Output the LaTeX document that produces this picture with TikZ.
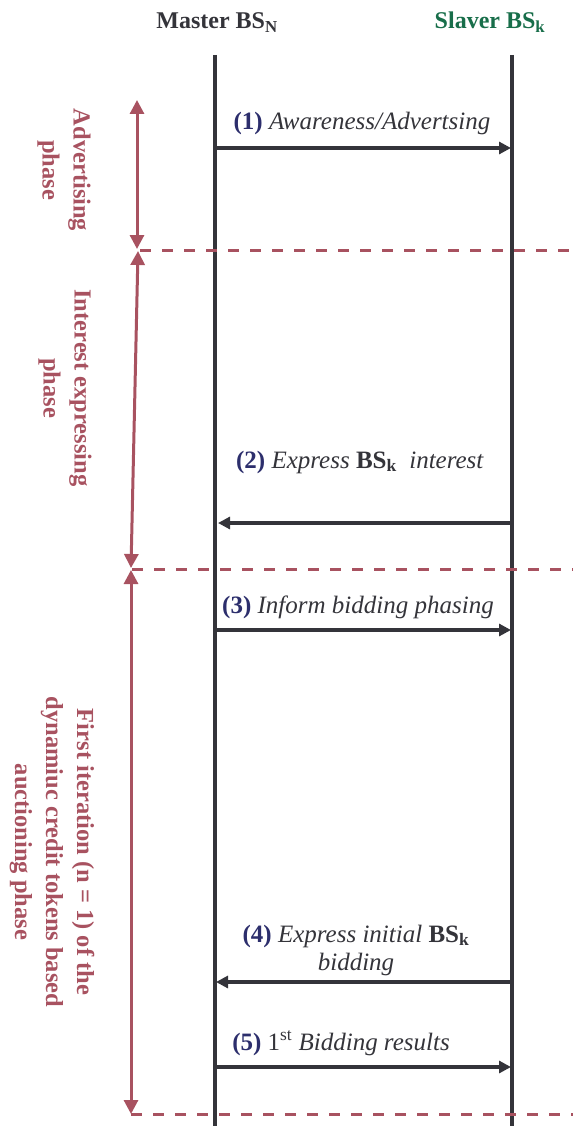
\documentclass[tikz,border=0pt]{standalone}
\usepackage{fontspec}
\setmainfont{Liberation Serif}
\usetikzlibrary{arrows.meta}
\definecolor{lifegray}{RGB}{52,52,58}
\definecolor{phasered}{RGB}{168,82,96}
\definecolor{stepnavy}{RGB}{44,46,108}
\definecolor{slavegreen}{RGB}{24,110,74}
\newcommand{\BSk}{\textbf{BS\textsubscript{k}}}
\newcommand{\msgno}[1]{\textbf{\textcolor{stepnavy}{(#1)}}}

\begin{document}
\begin{tikzpicture}[
    x=1pt, y=-1pt,
    head/.style={font=\fontsize{24}{28}\selectfont\bfseries, anchor=base, inner sep=0pt},
    msg/.style={font=\fontsize{25}{28}\selectfont, text=lifegray, anchor=base, inner sep=0pt, align=center},
    phase/.style={font=\fontsize{24.5}{31}\selectfont\bfseries, text=phasered, rotate=-90, align=center, inner sep=0pt},
    life/.style={line width=4pt, draw=lifegray},
    arr/.style={-{Triangle[length=12pt, width=12pt]}, line width=3.8pt, draw=lifegray},
    span/.style={{Triangle[length=14pt, width=14pt]}-{Triangle[length=14pt, width=14pt]}, line width=3pt, draw=phasered},
    sep/.style={dash pattern=on 11pt off 11pt, line width=3pt, draw=phasered},
]
    \useasboundingbox (0,0) rectangle (573,1126);

    % Headers
    \node[head, text=lifegray] (master) at (217,29) {Master BS\textsubscript{N}};
    \node[head, text=slavegreen] (slave) at (490,29) {Slaver BS\textsubscript{k}};

    % Lifelines
    \coordinate (mtop) at (215,55);
    \coordinate (mbot) at (215,1126);
    \coordinate (sltop) at (512,55);
    \coordinate (slbot) at (512,1126);
    \draw[life] (mtop) -- (mbot);
    \draw[life] (sltop) -- (slbot);

    % Message end points
    \foreach \i/\y in {1/148,2/523,3/630,4/982,5/1067} {
        \coordinate (m\i) at (215,\y);
        \coordinate (s\i) at (511,\y);
    }

    % Messages
    \node[msg] (l1) at (362,130) {\msgno{1} \textit{Awareness/Advertsing}};
    \node[msg] (l2) at (360,468) {\msgno{2} \textit{Express} \BSk\ \ \textit{interest}};
    \node[msg] (l3) at (358,613) {\msgno{3} \textit{Inform bidding phasing}};
    \node[msg] (l4) at (356,970) {\msgno{4} \textit{Express initial} \BSk\\\textit{bidding}};
    \node[msg] (l5) at (341,1050) {\msgno{5} 1\textsuperscript{st} \textit{Bidding results}};

    \draw[arr] (m1) -- (s1);
    \draw[arr] (s2) -- ([xshift=3pt]m2);
    \draw[arr] (m3) -- (s3);
    \draw[arr] (s4) -- ([xshift=1pt]m4);
    \draw[arr] (m5) -- (s5);

    % Phase separators
    \coordinate (p0) at (137,100);
    \coordinate (p1) at (137,249);
    \coordinate (p1b) at (138,251);
    \coordinate (p2) at (131,568);
    \coordinate (p2b) at (131,570);
    \coordinate (p3) at (131,1114);
    \coordinate (d1a) at (140,250);
    \coordinate (d1b) at (573,250);
    \coordinate (d2a) at (132,569);
    \coordinate (d2b) at (573,569);
    \coordinate (d3a) at (131,1114);
    \coordinate (d3b) at (573,1114);
    \draw[sep] (d1a) -- (d1b);
    \draw[sep] (d2a) -- (d2b);
    \draw[sep] (d3a) -- (d3b);
    \draw[span] (p0) -- (p1);
    \draw[span] (p1b) -- (p2);
    \draw[span] (p2b) -- (p3);

    % Phase labels
    \node[phase] (ph1) at (64,170) {Advertising\\phase};
    \node[phase] (ph2) at (65,388) {Interest expressing\\phase};
    \node[phase] (ph3) at (52,852) {First iteration (n = 1) of the\\dynamiuc credit tokens based\\auctioning phase};
\end{tikzpicture}
\end{document}
